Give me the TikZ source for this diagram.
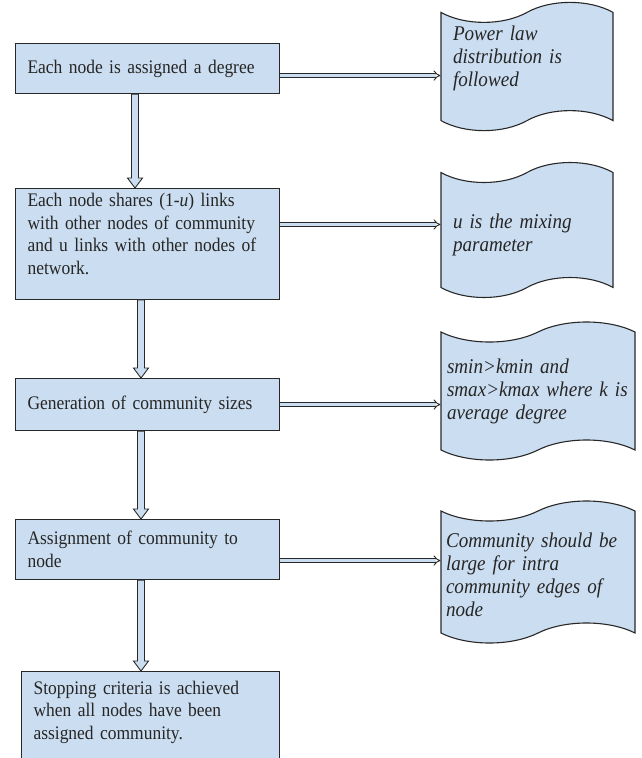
\documentclass[tikz,border=0pt]{standalone}
\usepackage{fontspec}
\setmainfont{Liberation Serif}[FakeStretch=0.91]
\usetikzlibrary{shapes.symbols,arrows.meta,calc}
\definecolor{boxblue}{RGB}{203,221,240}
\definecolor{edgegray}{RGB}{40,40,40}
\tikzstyle{stepbox} = [draw=edgegray, fill=boxblue, line width=1.1pt,
    rectangle, anchor=north west, align=left, inner xsep=12pt,
    minimum width=264, text width=240,
    font=\fontsize{19.2}{22.5}\selectfont, text=black!85]
\tikzstyle{notetape} = [draw=edgegray, fill=boxblue, line width=1.1pt,
    tape, tape bend top=in and out, tape bend bottom=in and out,
    tape bend height=20pt, align=left, inner xsep=12pt,
    font=\fontsize{21}{23}\selectfont\itshape, text=black!85]
\tikzstyle{sidearrow} = [draw=edgegray, line width=0.9pt, double=boxblue,
    double distance=2.6pt, -{Implies}]
\tikzstyle{downarrow} = [draw=edgegray, fill=boxblue, line width=0.9pt,
    line join=miter, to path={($(\tikztostart)+(-3.5,0)$)
    -- ($(\tikztotarget)+(-3.5,-10)$) -- ($(\tikztotarget)+(-7.5,-10)$)
    -- (\tikztotarget) -- ($(\tikztotarget)+(7.5,-10)$)
    -- ($(\tikztotarget)+(3.5,-10)$) -- ($(\tikztostart)+(3.5,0)$) -- cycle}]

\begin{document}
\begin{tikzpicture}[x=1pt,y=-1pt]
    \useasboundingbox (0,0) rectangle (642,758);
    % steps on the left
    \node[stepbox, minimum height=50] (b1) at (15,43)
        {Each node is assigned a degree};
    \node[stepbox, inner ysep=5pt, text depth=87.5pt] (b2) at (15,188)
        {Each node shares (1-\textit{u}) links\\with other nodes of community\\and u links with other nodes of\\network.};
    \node[stepbox, minimum height=52] (b3) at (15,378)
        {Generation of community sizes};
    \node[stepbox, minimum height=60] (b4) at (15,519)
        {Assignment of community to\\node};
    \node[stepbox, minimum width=258, text width=234, inner ysep=9.5pt, text depth=100pt] (b5) at (21,671)
        {Stopping criteria is achieved\\when all nodes have been\\assigned community.};
    % notes on the right
    \node[notetape, minimum width=172, minimum height=113, text width=148, text depth=67pt] (d1) at (527,66.5)
        {Power law\\distribution is\\followed};
    \node[notetape, minimum width=172, minimum height=135, text width=148, text depth=18pt] (d2) at (527,230)
        {u is the mixing\\parameter};
    \node[notetape, minimum width=194, minimum height=138, text width=182, inner xsep=6pt] (d3) at (538,391)
        {smin>kmin and\\smax>kmax where k is\\average degree};
    \node[notetape, minimum width=194, minimum height=142, text width=184, inner xsep=5pt, text depth=64pt] (d4) at (538,572)
        {Community should be\\large for intra\\community edges of\\node};
    % arrows
    \draw[downarrow] ($(b1.south west)+(120,0)$) to ($(b2.north west)+(120,0)$);
    \draw[downarrow] ($(b2.south west)+(126,0)$) to ($(b3.north west)+(126,0)$);
    \draw[downarrow] ($(b3.south west)+(126,0)$) to ($(b4.north west)+(126,0)$);
    \draw[downarrow] ($(b4.south west)+(126,0)$) to ($(b5.north west)+(120,0)$);
    \draw[sidearrow] ([yshift=-7pt]b1.east) -- ([yshift=-7pt]b1.east -| d1.west);
    \draw[sidearrow] ([yshift=19.5pt]b2.east) -- ([yshift=19.5pt]b2.east -| d2.west);
    \draw[sidearrow] (b3.east) -- (b3.east -| d3.west);
    \draw[sidearrow] ([yshift=-11pt]b4.east) -- ([yshift=-11pt]b4.east -| d4.west);
\end{tikzpicture}
\end{document}
